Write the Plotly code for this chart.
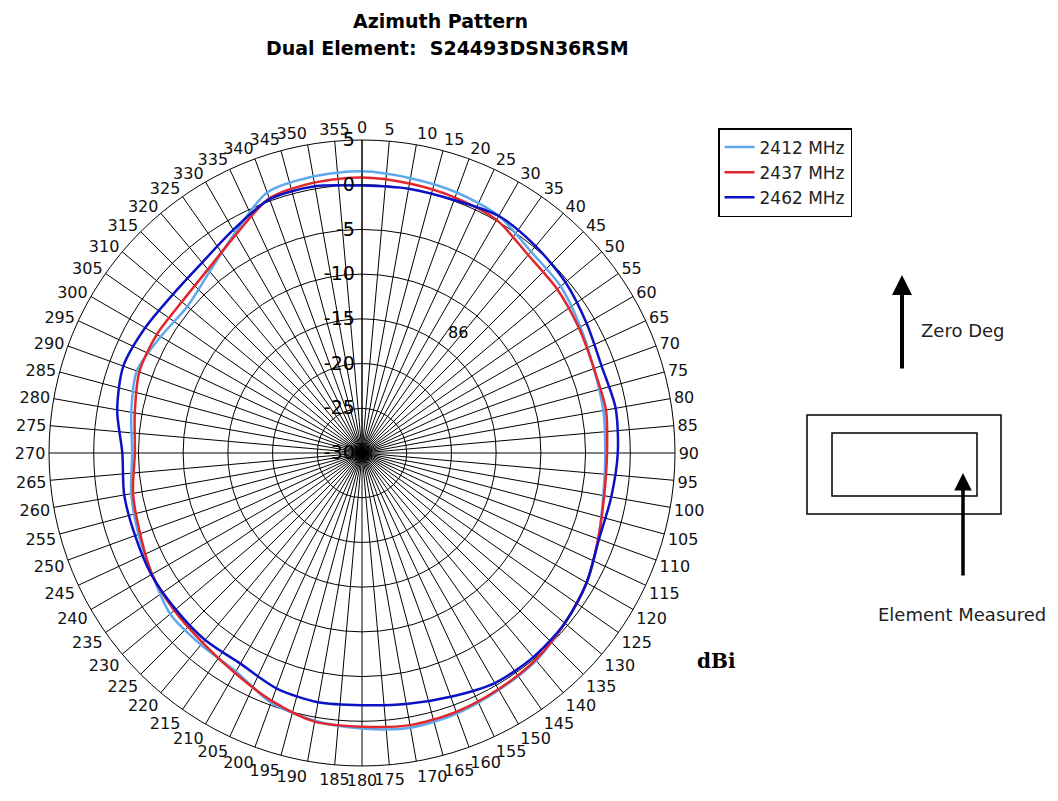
import plotly.graph_objects as go

# --- measured pattern, dBi every 10 deg ---
angles = list(range(0, 360, 10)) + [360]

gain_2412 = [1.5, 1.2, 1.0, 0.6, -0.6, -1.0, -1.8, -2.4, -2.6, -2.8,
             -2.6, -1.9, -1.0, -0.4, 0.3, 0.6, 1.0, 1.2, 0.8, 0.4,
             -0.3, -1.8, -2.0, -2.0, -2.9, -3.4, -3.8, -4.3, -3.8, -3.2,
             -4.0, -4.5, -3.5, -1.6, 1.0, 1.4]
gain_2437 = [0.8, 0.6, 0.4, 0.1, -1.1, -1.5, -2.0, -2.4, -2.3, -2.6,
             -2.5, -1.9, -1.0, -0.4, 0.2, 0.5, 0.8, 0.9, 0.6, 0.5,
             -0.5, -1.6, -2.3, -2.6, -2.9, -3.6, -4.0, -4.6, -4.2, -3.5,
             -3.5, -3.7, -3.2, -1.8, 0.3, 0.7]
gain_2462 = [-0.1, 0.0, 0.1, 0.6, 0.2, -0.3, -1.0, -1.5, -1.2, -1.4,
             -1.7, -1.8, -1.0, -0.4, -0.2, -0.3, -1.0, -1.5, -1.8, -1.7,
             -2.0, -2.8, -2.7, -2.8, -2.8, -3.0, -3.0, -3.2, -2.2, -1.6,
             -2.0, -2.4, -2.2, -1.2, 0.2, 0.3]

series_names = ["2412 MHz", "2437 MHz", "2462 MHz"]
series_colors = ["#5fa8ee", "#e3262b", "#0a12c4"]

angle_ticks = list(range(0, 360, 5))
radial_ticks = [-30, -25, -20, -15, -10, -5, 0, 5]

W, H = 1058, 801
OFF = 8  # page body margin shifts the whole figure


def px(x):
    return (x - OFF) / W


def py(y):
    return 1 - (y - OFF) / H


fig = go.Figure()
for name, vals, col in zip(series_names, [gain_2412, gain_2437, gain_2462], series_colors):
    fig.add_trace(go.Scatterpolar(
        r=vals + vals[:1], theta=angles, mode="lines", name=name,
        line=dict(color=col, width=2.5, shape="spline", smoothing=0.8)))

fig.update_layout(
    width=W, height=H,
    margin=dict(l=0, r=0, t=0, b=0),
    paper_bgcolor="white",
    font=dict(family="DejaVu Sans", color="black"),
    polar=dict(
        domain=dict(x=[px(49), px(675)], y=[py(766), py(140)]),
        bgcolor="white",
        angularaxis=dict(
            rotation=90, direction="clockwise",
            tickvals=angle_ticks, ticktext=[str(a) for a in angle_ticks],
            ticks="", showline=True, linecolor="black", linewidth=1,
            gridcolor="black", gridwidth=1,
            tickfont=dict(size=16, color="#111111")),
        radialaxis=dict(
            range=[-30, 5], tickvals=radial_ticks,
            ticktext=[str(v) for v in radial_ticks],
            angle=90, side="counterclockwise", tickangle=90,
            ticks="", showline=True, linecolor="black", linewidth=1,
            gridcolor="black", gridwidth=1,
            tickfont=dict(size=19, color="black"))),
    legend=dict(
        x=px(718), y=py(128), xanchor="left", yanchor="top",
        bordercolor="black", borderwidth=1.5, bgcolor="white",
        font=dict(size=17, color="#222222"), tracegroupgap=0),
    showlegend=True,
)


def label(text, x, y, size, **kw):
    fig.add_annotation(text=text, x=px(x), y=py(y), xref="paper", yref="paper",
                       xanchor="center", yanchor="middle", showarrow=False,
                       font=dict(size=size, **kw))


# title
label("<b>Azimuth Pattern</b>", 440, 21, 19)
label("<b>Dual Element:  S24493DSN36RSM</b>", 447, 48, 19)

# stray label and unit
label("86", 458, 332, 16)
label("<b>dBi</b>", 716, 661, 20, family="DejaVu Serif")

# orientation sketch
fig.add_annotation(x=px(902), y=py(275), ax=0, ay=95, xref="paper", yref="paper",
                   text="", showarrow=True, arrowhead=2, arrowsize=1, arrowwidth=4, arrowcolor="black")
label("Zero Deg", 963, 330, 18, color="#222222")
fig.add_shape(type="rect", xref="paper", yref="paper", x0=px(807), x1=px(1001),
              y0=py(514), y1=py(415), line=dict(color="black", width=1.5))
fig.add_shape(type="rect", xref="paper", yref="paper", x0=px(832), x1=px(977),
              y0=py(496), y1=py(433), line=dict(color="black", width=1.5))
fig.add_annotation(x=px(963), y=py(473), ax=0, ay=104, xref="paper", yref="paper",
                   text="", showarrow=True, arrowhead=2, arrowsize=1, arrowwidth=3.5, arrowcolor="black")
label("Element Measured", 962, 614, 18, color="#222222")

fig.write_html("out.html")
